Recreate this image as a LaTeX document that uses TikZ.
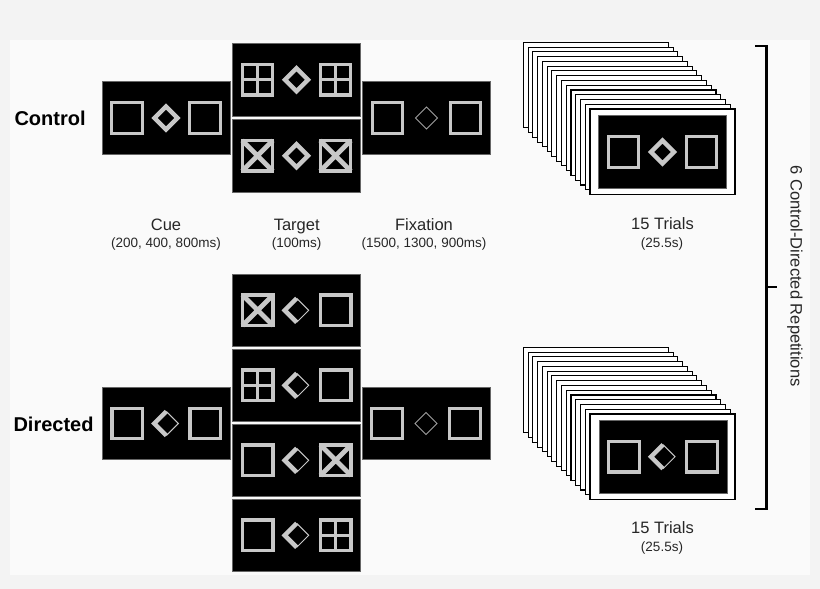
\documentclass[tikz,border=0pt]{standalone}
\usepackage{fontspec}
\setmainfont{Liberation Sans}
\usetikzlibrary{positioning}
\definecolor{stimgray}{RGB}{200,200,200}
\definecolor{pagegray}{RGB}{243,243,243}
\definecolor{sheetwhite}{RGB}{250,250,250}
\tikzset{panel/.style={rectangle,fill=black,draw=black!60,line width=0.8pt,
    minimum width=128pt,minimum height=72.5pt,inner sep=0pt},
  card/.style={fill=white,draw=black,line width=1.1pt},
  sq/.style={draw=stimgray,line width=3.3pt},
  lbl/.style={font=\fontsize{16.5}{18}\selectfont,text=black!85,anchor=base},
  sublbl/.style={font=\fontsize{13.5}{15}\selectfont,text=black!85,anchor=base},
  cond/.style={font=\fontsize{20}{22}\selectfont\bfseries,anchor=west},
  pics/plainbox/.style={code={\draw[sq] (-15.3,-15.3) rectangle (15.3,15.3);}},
  pics/gridbox/.style={code={\draw[sq] (-15.3,-15.3) rectangle (15.3,15.3);
      \draw[sq] (0,-15.3) -- (0,15.3) (-15.3,0) -- (15.3,0);}},
  pics/crossbox/.style={code={\draw[sq] (-15.3,-15.3) rectangle (15.3,15.3);
      \draw[sq,line width=4.8pt] (-15.3,-15.3) -- (15.3,15.3) (-15.3,15.3) -- (15.3,-15.3);}},
  pics/fulldiamond/.style={code={\draw[draw=stimgray,line width=4.5pt,line join=miter]
      (0,-11.5) -- (11.5,0) -- (0,11.5) -- (-11.5,0) -- cycle;}},
  pics/halfdiamond/.style={code={\draw[draw=stimgray,line width=1pt]
      (0,-12) -- (12,0) -- (0,12);
      \draw[draw=stimgray,line width=4.5pt,line join=miter] (0,-12) -- (-12,0) -- (0,12);}},
  pics/fixdiamond/.style={code={\draw[draw=stimgray!80!black,line width=1pt]
      (0,-11) -- (11,0) -- (0,11) -- (-11,0) -- cycle;}}
}
\newcommand{\stimrow}[4]{%
  \pic at ([xshift=-39pt]#1.center) {#2};
  \pic at (#1.center) {#3};
  \pic at ([xshift=39pt]#1.center) {#4};}

\begin{document}
\begin{tikzpicture}[x=1pt,y=-1pt]
\useasboundingbox (0,0) rectangle (820,589);
\fill[pagegray] (0,0) rectangle (820,589);
\fill[sheetwhite] (10,40) rectangle (810,575);

% condition names
\node[cond] (ctrl) at (11,118) {Control};
\node[cond] (dirc) at (10,424) {Directed};

% control trial
\node[panel] (ccue) at (166,118) {};
\node[panel] (ctgta) at (296.5,79.7) {};
\node[panel] (ctgtb) at (296.5,155.7) {};
\node[panel] (cfix) at (426.5,118) {};
\stimrow{ccue}{plainbox}{fulldiamond}{plainbox}
\stimrow{ctgta}{gridbox}{fulldiamond}{gridbox}
\stimrow{ctgtb}{crossbox}{fulldiamond}{crossbox}
\stimrow{cfix}{plainbox}{fixdiamond}{plainbox}

% directed trial
\node[panel] (dcue) at (166.3,423.5) {};
\node[panel] (dtgta) at (296.7,310.3) {};
\node[panel] (dtgtb) at (296.7,385.3) {};
\node[panel] (dtgtc) at (296.7,460.3) {};
\node[panel] (dtgtd) at (296.7,535.3) {};
\node[panel] (dfix) at (426,423.5) {};
\stimrow{dcue}{plainbox}{halfdiamond}{plainbox}
\stimrow{dtgta}{crossbox}{halfdiamond}{plainbox}
\stimrow{dtgtb}{gridbox}{halfdiamond}{plainbox}
\stimrow{dtgtc}{plainbox}{halfdiamond}{crossbox}
\stimrow{dtgtd}{plainbox}{halfdiamond}{gridbox}
\stimrow{dfix}{plainbox}{fixdiamond}{plainbox}

% timing labels
\node[lbl] (cuelbl) at (166,230) {Cue};
\node[sublbl] (cuetime) at (166,247.5) {(200, 400, 800ms)};
\node[lbl] (tgtlbl) at (296.7,230) {Target};
\node[sublbl] (tgttime) at (296.7,247.5) {(100ms)};
\node[lbl] (fixlbl) at (424,230) {Fixation};
\node[sublbl] (fixtime) at (424,247.5) {(1500, 1300, 900ms)};

% trial stacks
\foreach \i in {14,...,0}
  {
    \filldraw[card] (590-4.76*\i,109-4.76*\i) rectangle ++(145,85.5);
    \filldraw[card] (590-4.76*\i,414-4.76*\i) rectangle ++(145,85.5);
  }
\node[panel] (cstack) at (662.5,152) {};
\node[panel] (dstack) at (663,456.7) {};
\stimrow{cstack}{plainbox}{fulldiamond}{plainbox}
\stimrow{dstack}{plainbox}{halfdiamond}{plainbox}

\node[lbl] (ctrials) at (662.5,229) {15 Trials};
\node[sublbl] (cdur) at (662,247) {(25.5s)};
\node[lbl] (dtrials) at (662.5,533) {15 Trials};
\node[sublbl] (ddur) at (662,551) {(25.5s)};

% repetition bracket
\coordinate (brtop) at (755,46);
\coordinate (brbot) at (755,509);
\coordinate (brmid) at (766.5,287);
\draw[line width=2.5pt] (brtop) -- ++(11.5,0) |- (brbot);
\draw[line width=2.5pt] (brmid) -- ++(10,0);
\node[lbl,anchor=center,rotate=-90] (reps) at (795,276) {6 Control-Directed Repetitions};
\end{tikzpicture}
\end{document}
